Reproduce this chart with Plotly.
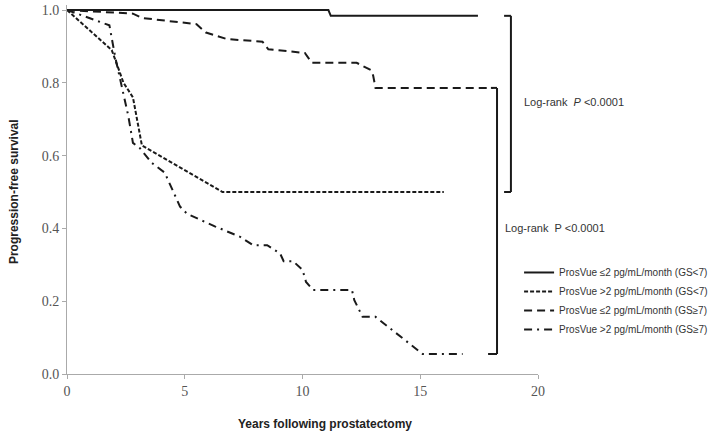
import plotly.graph_objects as go

# ---- data ----
years_le2_gs_lt7 = [0, 11.1, 11.2, 17.45]
surv_le2_gs_lt7 = [1.0, 1.0, 0.984, 0.984]

years_gt2_gs_lt7 = [0, 1.9, 2.4, 2.8, 3.18, 6.6, 16.0]
surv_gt2_gs_lt7 = [1.0, 0.89, 0.80, 0.76, 0.628, 0.5, 0.5]

years_le2_gs_ge7 = [0, 2.8, 3.2, 5.5, 5.9, 6.8, 8.3, 8.55, 10.1, 10.4, 12.3, 12.9, 13.0, 13.1, 18.1]
surv_le2_gs_ge7 = [1.0, 0.99, 0.978, 0.961, 0.938, 0.92, 0.913, 0.892, 0.882, 0.855, 0.855, 0.835, 0.82, 0.786, 0.786]

years_gt2_gs_ge7 = [0, 1.8, 2.05, 2.6, 2.8, 3.1, 3.6, 4.15, 4.8, 5.1, 6.3, 7.35, 7.9, 8.5, 9.05,
                    9.2, 9.6, 10.0, 10.15, 10.45, 12.1, 12.2, 12.55, 13.1, 15.1, 16.8]
surv_gt2_gs_ge7 = [1.0, 0.958, 0.87, 0.71, 0.635, 0.62, 0.58, 0.553, 0.46, 0.44, 0.405, 0.377, 0.354, 0.354, 0.331,
                   0.31, 0.31, 0.286, 0.253, 0.231, 0.231, 0.203, 0.157, 0.157, 0.055, 0.055]

series_names = [
    "ProsVue \u22642 pg/mL/month (GS&lt;7)",
    "ProsVue >2 pg/mL/month (GS&lt;7)",
    "ProsVue \u22642 pg/mL/month (GS\u22657)",
    "ProsVue >2 pg/mL/month (GS\u22657)",
]
x_ticks = [0, 5, 10, 15, 20]
y_ticks = [0.0, 0.2, 0.4, 0.6, 0.8, 1.0]
pvalue_text_1 = "Log-rank  <i>P</i> &lt;0.0001"
pvalue_text_2 = "Log-rank  P &lt;0.0001"

# ---- styling ----
ink = "#1a1a1a"
dashes = ["solid", "4px,2px", "8px,5px", "8px,5px,2px,5px"]
series = [
    (years_le2_gs_lt7, surv_le2_gs_lt7),
    (years_gt2_gs_lt7, surv_gt2_gs_lt7),
    (years_le2_gs_ge7, surv_le2_gs_ge7),
    (years_gt2_gs_ge7, surv_gt2_gs_ge7),
]

fig = go.Figure()
for (xs, ys), name, dash in zip(series, series_names, dashes):
    fig.add_trace(go.Scatter(x=xs, y=ys, mode="lines", name=name,
                             line=dict(color=ink, width=2, dash=dash)))

# brackets grouping curves (log-rank comparisons)
bx1 = 18.85  # upper bracket
top1 = surv_le2_gs_lt7[-1]
bot1 = surv_gt2_gs_lt7[-1]
bx2 = 18.26  # lower bracket
top2 = surv_le2_gs_ge7[-1]
bot2 = surv_gt2_gs_ge7[-1]
bl = dict(color=ink, width=2)
for x0, y0, x1, y1 in [
    (18.56, top1, bx1, top1), (bx1, top1, bx1, bot1), (18.56, bot1, bx1, bot1),
    (18.0, top2, bx2, top2), (bx2, top2, bx2, bot2), (17.88, bot2, bx2, bot2),
]:
    fig.add_shape(type="line", x0=x0, y0=y0, x1=x1, y1=y1, xref="x", yref="y", line=bl)

txt_font = dict(family="Liberation Sans, Arial, sans-serif", size=11, color="#333")
fig.add_annotation(x=19.32, y=0.747, xref="x", yref="y", text=pvalue_text_1,
                   showarrow=False, xanchor="left", yanchor="middle", font=txt_font)
fig.add_annotation(x=18.51, y=0.401, xref="x", yref="y", text=pvalue_text_2,
                   showarrow=False, xanchor="left", yanchor="middle", font=txt_font)

title_font = dict(family="Liberation Sans, Arial, sans-serif", size=12, color="#222")
fig.add_annotation(x=0.548, y=-0.1355, xref="paper", yref="paper",
                   text="<b>Years following prostatectomy</b>", showarrow=False,
                   xanchor="center", yanchor="middle", font=title_font)
fig.add_annotation(x=-0.1125, y=0.493, xref="paper", yref="paper",
                   text="<b>Progression-free survival</b>", showarrow=False, textangle=-90,
                   xanchor="center", yanchor="middle", font=title_font)

tick_font = dict(family="Liberation Serif, Times New Roman, serif", size=14, color="#555")
axis_common = dict(showgrid=False, zeroline=False, showline=True, linecolor="#aaa", linewidth=1,
                   ticks="outside", ticklen=4, tickcolor="#aaa", tickfont=tick_font,
                   automargin=False)

fig.update_layout(
    width=714, height=438,
    margin=dict(l=67, r=176, t=5, b=64, autoexpand=False),
    paper_bgcolor="white", plot_bgcolor="white",
    xaxis=dict(range=[0, 20], tickvals=x_ticks, **axis_common),
    yaxis=dict(range=[0, 1 + 5 / 364], tickvals=y_ticks, tickformat=".1f", **axis_common),
    legend=dict(x=0.727, y=0.411, xref="container", yref="container",
                xanchor="left", yanchor="top",
                font=dict(family="Liberation Sans, Arial, sans-serif", size=10, color="#333"),
                bgcolor="rgba(0,0,0,0)", itemwidth=30, tracegroupgap=0),
    showlegend=True,
)

fig.write_html("out.html", config={"displayModeBar": False},
               post_script="document.body.style.margin='0';document.body.style.overflow='hidden';")
